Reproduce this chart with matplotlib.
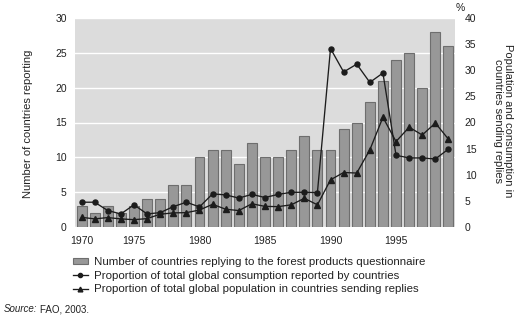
import numpy as np
import matplotlib.pyplot as plt
from matplotlib.lines import Line2D
from matplotlib.patches import Patch

plt.rcParams['font.family'] = ['Liberation Sans', 'DejaVu Sans']

# Reporting years (no 1971 entry) and the three series
years = [1970] + list(range(1972, 2000))
countries = [3, 2, 3, 2, 3, 4, 4, 6, 6, 10,
             11, 11, 9, 12, 10, 10, 11, 13, 11, 11,
             14, 15, 18, 21, 24, 25, 20, 28, 26]
consumption = [4.7, 4.7, 3.1, 2.45, 4.2, 2.45, 2.7, 3.85, 4.7, 3.8,
               6.3, 6.1, 5.5, 6.2, 5.6, 6.2, 6.6, 6.6, 6.55, 34.2,
               29.7, 31.2, 27.7, 29.5, 13.7, 13.2, 13.2, 13.0, 14.9]
population = [1.8, 1.5, 1.75, 1.5, 1.35, 1.55, 2.4, 2.65, 2.7, 3.2,
              4.3, 3.35, 3.1, 4.4, 3.9, 3.85, 4.2, 5.45, 4.2, 9.0,
              10.4, 10.3, 14.75, 21.0, 16.35, 19.1, 17.6, 19.9, 16.8]
tick_years = [1970, 1975, 1980, 1985, 1990, 1995]

legend_labels = [
    "Number of countries replying to the forest products questionnaire",
    "Proportion of total global consumption reported by countries",
    "Proportion of total global population in countries sending replies",
]

W, H = 532, 325
fig = plt.figure(figsize=(W / 100, H / 100), dpi=100)
ax = fig.add_axes([75 / W, 1 - 226.7 / H, 380 / W, (226.7 - 18.3) / H])
ax2 = ax.twinx()

x = np.arange(len(years))
bar_color = "#989898"
bar_edge = "#6e6e6e"
line_color = "#1c1c1c"
text_color = "#222222"

ax.set_facecolor("#dcdcdc")
ax.bar(x, countries, width=0.76, color=bar_color, edgecolor=bar_edge,
       linewidth=0.8, zorder=2)
ax.set_xlim(-0.5, len(years) - 0.5)
ax.set_ylim(0, 30)
ax.set_yticks(np.arange(0, 31, 5))
ax.yaxis.grid(True, color="white", linewidth=1.0, zorder=0)
ax.set_axisbelow(True)

ax2.plot(x, consumption, color=line_color, lw=0.95, marker="o", ms=3.6, zorder=3)
ax2.plot(x, population, color=line_color, lw=0.95, marker="^", ms=4.0, zorder=3)
ax2.set_ylim(0, 40)
ax2.set_yticks(np.arange(0, 41, 5))

ax.set_xticks([years.index(y) for y in tick_years])
ax.set_xticklabels([str(y) for y in tick_years])

for a in (ax, ax2):
    for s in a.spines.values():
        s.set_visible(False)
    a.tick_params(length=0, labelsize=7.5, colors=text_color)
ax.tick_params(axis="y", pad=6)
ax.tick_params(axis="x", pad=7)
ax2.tick_params(axis="y", pad=7)

fig.text(28 / W, 1 - 124 / H, "Number of countries reporting", rotation=90,
         ha="center", va="center", fontsize=8, color=text_color)
fig.text(503 / W, 1 - 121 / H,
         "Population and consumption in\ncountries sending replies",
         rotation=270, ha="center", va="center", multialignment="center",
         fontsize=8, color=text_color, linespacing=1.1)
fig.text(460 / W, 1 - 8 / H, "%", ha="center", va="center", fontsize=7.5,
         color=text_color)

handles = [
    Patch(facecolor=bar_color, edgecolor=bar_edge, linewidth=0.8),
    Line2D([], [], color=line_color, lw=0.95, marker="o", ms=3.0),
    Line2D([], [], color=line_color, lw=0.95, marker="^", ms=3.4),
]
fig.legend(handles, legend_labels, loc="upper left",
           bbox_to_anchor=(73 / W, 1 - 257 / H), frameon=False,
           fontsize=8.25, handlelength=1.3, handleheight=0.4,
           handletextpad=0.5, labelspacing=0.32, borderaxespad=0,
           borderpad=0, labelcolor=text_color)

src = fig.text(4 / W, 1 - 309 / H, "Source:", style="italic", fontsize=7,
               va="center", color=text_color)
fig.add_artist(plt.Annotation("FAO, 2003.", xy=(1, 0.5), xycoords=src,
                              xytext=(1.5, 0), textcoords="offset points",
                              va="center", ha="left", fontsize=7,
                              color=text_color))

fig.savefig("out.png", dpi=100)
